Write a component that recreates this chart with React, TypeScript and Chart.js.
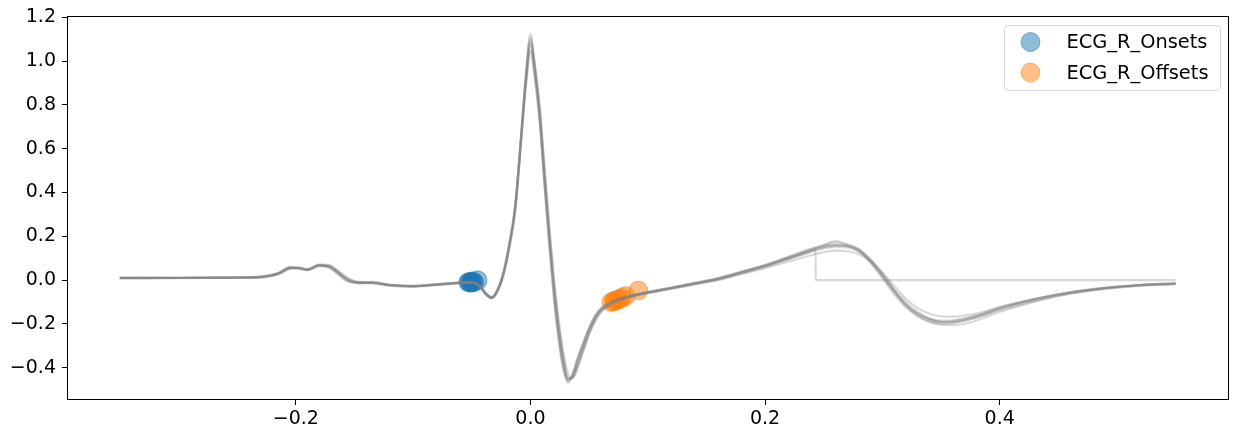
import React, { useEffect, useRef } from "react";
import { Chart, registerables } from "chart.js";

Chart.register(...registerables);

// ---------------- data ----------------
const TIME = [
  -0.35, -0.3, -0.25, -0.23, -0.215, -0.205, -0.198, -0.19, -0.18, -0.172,
  -0.165, -0.155, -0.145, -0.135, -0.12, -0.1, -0.08, -0.06, -0.05, -0.043,
  -0.038, -0.033, -0.028, -0.023, -0.018, -0.013, -0.008, -0.004, 0.0, 0.004,
  0.008, 0.012, 0.016, 0.02, 0.024, 0.028, 0.032, 0.036, 0.04, 0.045,
  0.05, 0.055, 0.06, 0.07, 0.08, 0.09, 0.1, 0.12, 0.14, 0.16,
  0.18, 0.2, 0.22, 0.24, 0.25, 0.26, 0.27, 0.28, 0.29, 0.3,
  0.31, 0.32, 0.33, 0.34, 0.35, 0.36, 0.38, 0.4, 0.43, 0.46,
  0.49, 0.52, 0.55,
];

const BEAT_1 = [
  0.010, 0.010, 0.012, 0.012, 0.030, 0.058, 0.055, 0.050, 0.068, 0.060,
  0.035, -0.005, -0.010, -0.010, -0.022, -0.027, -0.018, -0.010, -0.008, -0.028,
  -0.062, -0.080, -0.045, 0.030, 0.160, 0.330, 0.650, 0.920, 1.100, 0.950,
  0.740, 0.450, 0.180, -0.060, -0.250, -0.390, -0.460, -0.430, -0.365, -0.290,
  -0.220, -0.165, -0.130, -0.097, -0.080, -0.067, -0.057, -0.037, -0.015, 0.005,
  0.035, 0.065, 0.100, 0.135, 0.150, 0.158, 0.155, 0.135, 0.085, 0.020,
  -0.050, -0.110, -0.150, -0.175, -0.185, -0.183, -0.160, -0.125, -0.085, -0.055,
  -0.035, -0.022, -0.015,
];
const BEAT_2 = [
  0.008, 0.009, 0.011, 0.013, 0.028, 0.052, 0.056, 0.048, 0.070, 0.068,
  0.045, 0.005, -0.012, -0.012, -0.022, -0.026, -0.020, -0.012, -0.012, -0.032,
  -0.066, -0.084, -0.052, 0.020, 0.145, 0.315, 0.635, 0.930, 1.125, 0.975,
  0.780, 0.500, 0.230, -0.010, -0.200, -0.350, -0.445, -0.448, -0.395, -0.318,
  -0.242, -0.185, -0.143, -0.104, -0.084, -0.070, -0.058, -0.038, -0.018, 0.002,
  0.030, 0.060, 0.095, 0.130, 0.145, 0.152, 0.150, 0.130, 0.090, 0.030,
  -0.040, -0.100, -0.145, -0.175, -0.190, -0.192, -0.172, -0.138, -0.095, -0.062,
  -0.040, -0.025, -0.018,
];
const BEAT_3 = [
  0.012, 0.011, 0.013, 0.016, 0.033, 0.060, 0.054, 0.047, 0.066, 0.058,
  0.030, -0.008, -0.012, -0.008, -0.020, -0.028, -0.020, -0.010, -0.006, -0.024,
  -0.058, -0.076, -0.040, 0.040, 0.172, 0.345, 0.645, 0.890, 1.050, 0.915,
  0.710, 0.425, 0.155, -0.085, -0.275, -0.410, -0.470, -0.435, -0.362, -0.288,
  -0.220, -0.167, -0.131, -0.098, -0.080, -0.066, -0.055, -0.034, -0.012, 0.010,
  0.040, 0.070, 0.108, 0.145, 0.160, 0.172, 0.165, 0.140, 0.080, 0.010,
  -0.065, -0.125, -0.165, -0.190, -0.200, -0.196, -0.170, -0.132, -0.090, -0.058,
  -0.036, -0.022, -0.014,
];
const BEAT_4 = [
  0.009, 0.010, 0.012, 0.014, 0.027, 0.053, 0.057, 0.050, 0.072, 0.070,
  0.048, 0.008, -0.008, -0.010, -0.024, -0.030, -0.022, -0.014, -0.010, -0.030,
  -0.064, -0.082, -0.050, 0.025, 0.150, 0.320, 0.650, 0.910, 1.080, 0.965,
  0.790, 0.525, 0.265, 0.015, -0.175, -0.325, -0.425, -0.445, -0.405, -0.330,
  -0.252, -0.190, -0.148, -0.106, -0.085, -0.071, -0.060, -0.040, -0.020, 0.000,
  0.028, 0.055, 0.085, 0.115, 0.128, 0.135, 0.132, 0.118, 0.085, 0.035,
  -0.025, -0.085, -0.128, -0.152, -0.165, -0.166, -0.152, -0.122, -0.085, -0.056,
  -0.036, -0.024, -0.017,
];
const BEAT_5 = [
  0.011, 0.012, 0.013, 0.015, 0.031, 0.057, 0.053, 0.046, 0.064, 0.062,
  0.038, -0.002, -0.015, -0.013, -0.023, -0.026, -0.019, -0.011, -0.009, -0.027,
  -0.060, -0.078, -0.044, 0.032, 0.156, 0.315, 0.615, 0.870, 1.040, 0.910,
  0.720, 0.450, 0.190, -0.050, -0.240, -0.380, -0.455, -0.435, -0.375, -0.300,
  -0.228, -0.172, -0.136, -0.100, -0.079, -0.065, -0.054, -0.036, -0.016, 0.006,
  0.036, 0.068, 0.104, 0.140, 0.155, 0.162, 0.158, 0.138, 0.092, 0.025,
  -0.048, -0.112, -0.155, -0.180, -0.192, -0.190, -0.166, -0.130, -0.088, -0.057,
  -0.036, -0.023, -0.016,
];
const BEAT_6 = [
  0.010, 0.011, 0.011, 0.014, 0.029, 0.056, 0.058, 0.049, 0.069, 0.066,
  0.042, 0.002, -0.010, -0.014, -0.026, -0.029, -0.021, -0.013, -0.011, -0.031,
  -0.065, -0.082, -0.047, 0.028, 0.158, 0.335, 0.660, 0.930, 1.110, 0.965,
  0.760, 0.485, 0.215, -0.025, -0.215, -0.362, -0.450, -0.442, -0.385, -0.310,
  -0.236, -0.178, -0.139, -0.101, -0.082, -0.068, -0.057, -0.036, -0.014, 0.008,
  0.038, 0.068, 0.105, 0.142, 0.160, 0.178, 0.160, 0.142, 0.095, 0.030,
  -0.045, -0.115, -0.162, -0.190, -0.203, -0.205, -0.185, -0.145, -0.098, -0.062,
  -0.039, -0.024, -0.017,
];
const BEAT_7 = [
  0.009, 0.010, 0.012, 0.016, 0.032, 0.054, 0.055, 0.046, 0.067, 0.064,
  0.040, 0.000, -0.014, -0.012, -0.021, -0.027, -0.021, -0.013, -0.010, -0.026,
  -0.060, -0.077, -0.042, 0.036, 0.165, 0.338, 0.650, 0.900, 1.070, 0.935,
  0.730, 0.445, 0.175, -0.070, -0.260, -0.395, -0.460, -0.425, -0.358, -0.285,
  -0.216, -0.163, -0.129, -0.095, -0.077, -0.064, -0.053, -0.034, -0.013, 0.008,
  0.037, 0.066, 0.100, 0.136, 0.152, 0.160, 0.155, 0.132, 0.080, 0.015,
  -0.055, -0.115, -0.155, -0.180, -0.190, -0.187, -0.163, -0.127, -0.086, -0.055,
  -0.034, -0.021, -0.014,
];
// Beat 8 ends early and is zero-padded after ~0.243 s
const BEAT_8_HEAD = [
  0.011, 0.010, 0.012, 0.015, 0.030, 0.056, 0.056, 0.047, 0.067, 0.063,
  0.038, -0.003, -0.012, -0.011, -0.022, -0.027, -0.020, -0.012, -0.009, -0.029,
  -0.063, -0.081, -0.048, 0.026, 0.158, 0.328, 0.645, 0.905, 1.090, 0.955,
  0.765, 0.490, 0.220, -0.020, -0.210, -0.358, -0.447, -0.444, -0.390, -0.313,
  -0.238, -0.180, -0.141, -0.100, -0.081, -0.068, -0.057, -0.037, -0.016, 0.004,
  0.033, 0.063, 0.098, 0.134,
];
const BEAT_8_TAIL_TIME = [0.243, 0.2431, 0.55];
const BEAT_8_TAIL = [0.142, 0.0, 0.0];

const ONSET_X = [-0.053, -0.052, -0.051, -0.05, -0.05, -0.049, -0.048, -0.045];
const ONSET_Y = [-0.01, -0.008, -0.012, -0.006, -0.009, -0.007, -0.01, 0.0];
const OFFSET_X = [0.069, 0.071, 0.072, 0.074, 0.076, 0.078, 0.081, 0.092];
const OFFSET_Y = [-0.1, -0.097, -0.094, -0.09, -0.086, -0.08, -0.072, -0.047];

const X_TICKS = [-0.2, 0.0, 0.2, 0.4];
const Y_TICKS = [-0.4, -0.2, 0.0, 0.2, 0.4, 0.6, 0.8, 1.0, 1.2];
const X_MIN = -0.395;
const X_MAX = 0.595;
const Y_MIN = -0.547;
const Y_MAX = 1.206;

const LABEL_ONSETS = "ECG_R_Onsets";
const LABEL_OFFSETS = "ECG_R_Offsets";

// ---------------- styles ----------------
const FONT_FAMILY = '"DejaVu Sans", sans-serif';
const TICK_FONT_SIZE = 19;
const LEGEND_FONT_SIZE = 19.4;
const LINE_COLOR = "rgba(128,128,128,0.3)";
const BLUE = "rgba(31,119,180,0.5)";
const ORANGE = "rgba(255,127,14,0.5)";

const fmt = (v: number) => {
  const s = Math.abs(v) < 1e-9 ? "0.0" : v.toFixed(1);
  return s.replace("-", "\u2212");
};

const zip = (xs: number[], ys: number[]) => xs.map((x, i) => ({ x, y: ys[i] }));

const framePlugin = {
  id: "frame",
  afterDatasetsDraw(chart: any) {
    const { ctx, chartArea: a } = chart;
    ctx.save();
    ctx.strokeStyle = "#000";
    ctx.lineWidth = 1;
    ctx.strokeRect(
      Math.round(a.left) + 0.5,
      Math.round(a.top) + 0.5,
      Math.round(a.right - a.left) - 1,
      Math.round(a.bottom - a.top) - 1
    );
    ctx.restore();
  },
};

const legendPlugin = {
  id: "mplLegend",
  afterDraw(chart: any) {
    const { ctx, chartArea: a } = chart;
    const items = [
      { label: LABEL_ONSETS, color: BLUE },
      { label: LABEL_OFFSETS, color: ORANGE },
    ];
    ctx.save();
    ctx.font = `${LEGEND_FONT_SIZE}px ${FONT_FAMILY}`;
    const tw = Math.max(...items.map((it) => ctx.measureText(it.label).width));
    const w = 62 + tw + 12;
    const h = 65;
    const x0 = a.right - 8 - w;
    const y0 = a.top + 9.5;
    const r = 4;
    ctx.beginPath();
    ctx.moveTo(x0 + r, y0);
    ctx.lineTo(x0 + w - r, y0);
    ctx.quadraticCurveTo(x0 + w, y0, x0 + w, y0 + r);
    ctx.lineTo(x0 + w, y0 + h - r);
    ctx.quadraticCurveTo(x0 + w, y0 + h, x0 + w - r, y0 + h);
    ctx.lineTo(x0 + r, y0 + h);
    ctx.quadraticCurveTo(x0, y0 + h, x0, y0 + h - r);
    ctx.lineTo(x0, y0 + r);
    ctx.quadraticCurveTo(x0, y0, x0 + r, y0);
    ctx.closePath();
    ctx.fillStyle = "rgba(255,255,255,0.8)";
    ctx.fill();
    ctx.strokeStyle = "rgba(204,204,204,0.8)";
    ctx.lineWidth = 1;
    ctx.stroke();
    items.forEach((it, i) => {
      const cy = y0 + 16.5 + i * 30.6;
      ctx.beginPath();
      ctx.arc(x0 + 26, cy, 9.5, 0, Math.PI * 2);
      ctx.fillStyle = it.color;
      ctx.fill();
      ctx.strokeStyle = it.color;
      ctx.lineWidth = 1;
      ctx.stroke();
      ctx.fillStyle = "#000";
      ctx.textBaseline = "middle";
      ctx.textAlign = "left";
      ctx.fillText(it.label, x0 + 62, cy + 1);
    });
    ctx.restore();
  },
};

export default function App() {
  const ref = useRef<HTMLCanvasElement>(null);

  useEffect(() => {
    document.body.style.margin = "0";
    const canvas = ref.current;
    if (!canvas) return;

    const beats = [BEAT_1, BEAT_2, BEAT_3, BEAT_4, BEAT_5, BEAT_6, BEAT_7];
    const lineBase = {
      type: "line" as const,
      borderColor: LINE_COLOR,
      borderWidth: 2.2,
      pointRadius: 0,
      fill: false,
      cubicInterpolationMode: "monotone" as const,
      order: 0,
    };
    const lineSets: any[] = beats.map((b, i) => ({
      ...lineBase,
      label: `beat${i + 1}`,
      data: zip(TIME, b),
    }));
    lineSets.push({
      ...lineBase,
      label: "beat8",
      data: zip(
        TIME.slice(0, BEAT_8_HEAD.length).concat(BEAT_8_TAIL_TIME),
        BEAT_8_HEAD.concat(BEAT_8_TAIL)
      ),
    });

    const scatterBase = {
      type: "scatter" as const,
      pointRadius: 9.3,
      borderWidth: 1.2,
      showLine: false,
      order: 1,
    };

    const tickFont = { family: FONT_FAMILY, size: TICK_FONT_SIZE };
    const gridOpts = {
      display: true,
      drawOnChartArea: false,
      drawTicks: true,
      tickLength: 5,
      tickColor: "#000",
      tickWidth: 1,
    };

    const chart = new Chart(canvas, {
      type: "line",
      data: {
        datasets: [
          ...lineSets,
          {
            ...scatterBase,
            label: LABEL_ONSETS,
            data: zip(ONSET_X, ONSET_Y),
            backgroundColor: BLUE,
            borderColor: BLUE,
          },
          {
            ...scatterBase,
            label: LABEL_OFFSETS,
            data: zip(OFFSET_X, OFFSET_Y),
            backgroundColor: ORANGE,
            borderColor: ORANGE,
          },
        ],
      } as any,
      options: {
        animation: false,
        responsive: false,
        maintainAspectRatio: false,
        devicePixelRatio: 1,
        layout: { padding: { top: 16, right: 10, left: 0, bottom: 0 } },
        plugins: {
          legend: { display: false },
          tooltip: { enabled: false },
        },
        elements: { line: { tension: 0 } },
        scales: {
          x: {
            type: "linear",
            min: X_MIN,
            max: X_MAX,
            afterBuildTicks: (s: any) => {
              s.ticks = X_TICKS.map((v) => ({ value: v }));
            },
            afterFit: (s: any) => {
              s.height = 39;
              s.paddingLeft = 0;
              s.paddingRight = 0;
            },
            grid: gridOpts,
            border: { display: false },
            ticks: {
              color: "#000",
              font: tickFont,
              padding: 3,
              maxRotation: 0,
              autoSkip: false,
              callback: (v: any) => fmt(Number(v)),
            },
          },
          y: {
            type: "linear",
            min: Y_MIN,
            max: Y_MAX,
            afterBuildTicks: (s: any) => {
              s.ticks = Y_TICKS.map((v) => ({ value: v }));
            },
            afterFit: (s: any) => {
              s.width = 67;
              s.paddingTop = 0;
              s.paddingBottom = 0;
            },
            grid: gridOpts,
            border: { display: false },
            ticks: {
              color: "#000",
              font: tickFont,
              padding: 6,
              autoSkip: false,
              callback: (v: any) => fmt(Number(v)),
            },
          },
        },
      },
      plugins: [framePlugin, legendPlugin],
    });

    return () => chart.destroy();
  }, []);

  return (
    <canvas
      ref={ref}
      width={1239}
      height={439}
      style={{ display: "block", width: 1239, height: 439 }}
    />
  );
}
